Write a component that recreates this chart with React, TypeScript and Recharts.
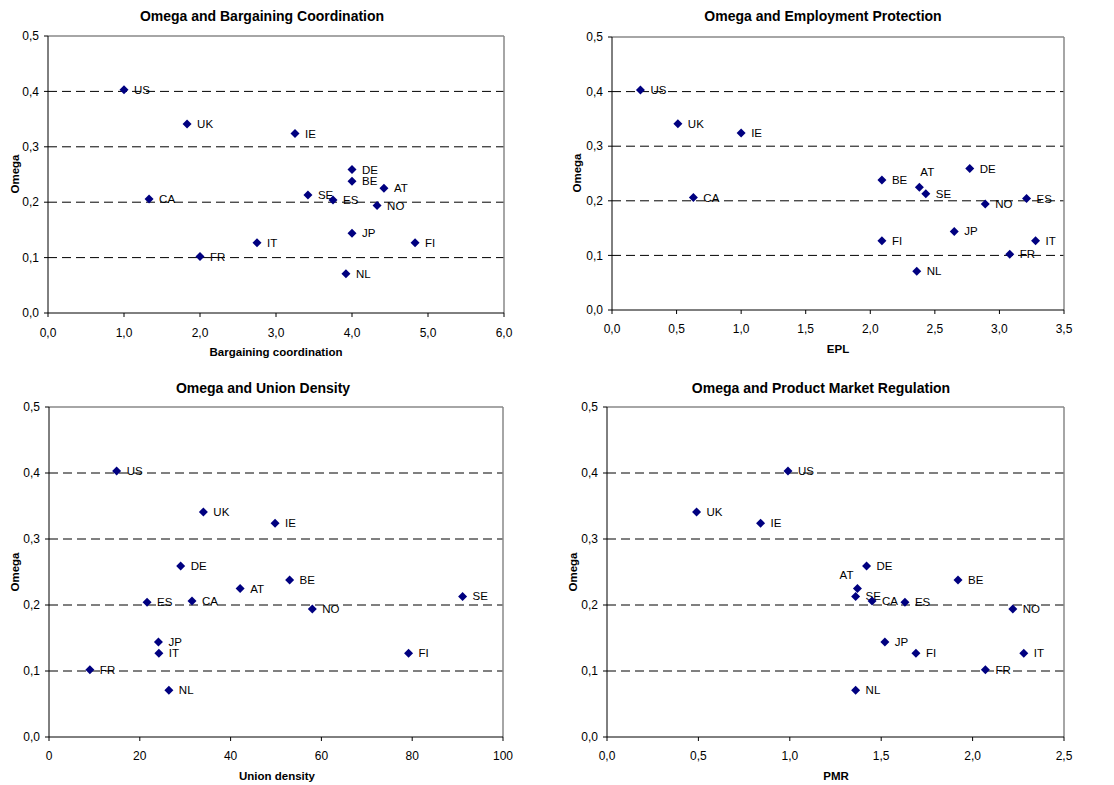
import { ScatterChart, Scatter, XAxis, YAxis, ReferenceLine } from 'recharts'

// Countries and omega (same for every panel)
const countries = ['US', 'UK', 'IE', 'DE', 'BE', 'AT', 'SE', 'CA', 'ES', 'NO', 'JP', 'IT', 'FI', 'FR', 'NL']
const omega = [0.403, 0.341, 0.324, 0.259, 0.238, 0.225, 0.213, 0.206, 0.204, 0.194, 0.144, 0.127, 0.127, 0.102, 0.071]

// x values per panel, in the same country order
const bargaining = [1.0, 1.83, 3.25, 4.0, 4.0, 4.42, 3.42, 1.33, 3.75, 4.33, 4.0, 2.75, 4.83, 2.0, 3.92]
const epl = [0.22, 0.51, 1.0, 2.77, 2.09, 2.38, 2.43, 0.63, 3.21, 2.89, 2.65, 3.28, 2.09, 3.08, 2.36]
const unionDensity = [14.9, 34.0, 49.8, 29.0, 53.0, 42.1, 91.1, 31.5, 21.6, 58.0, 24.1, 24.2, 79.2, 9.0, 26.4]
const pmr = [0.99, 0.49, 0.84, 1.42, 1.92, 1.37, 1.36, 1.45, 1.63, 2.22, 1.52, 2.28, 1.69, 2.07, 1.36]

// tick labels
const omegaTicks = [0, 0.1, 0.2, 0.3, 0.4, 0.5]
const bargainingTicks = [0, 1, 2, 3, 4, 5, 6]
const eplTicks = [0, 0.5, 1, 1.5, 2, 2.5, 3, 3.5]
const unionTicks = [0, 20, 40, 60, 80, 100]
const pmrTicks = [0, 0.5, 1, 1.5, 2, 2.5]

// labels that sit above the marker instead of to the right
const labelAbove: Record<string, string[]> = {
  epl: ['AT'],
  pmr: ['AT'],
}

const FONT = '"Liberation Sans", Arial, sans-serif'
const NAVY = '#000080'

const comma1 = (v: number) => v.toFixed(1).replace('.', ',')
const plain = (v: number) => String(v)

function makeShape(panel: string) {
  return (props: any) => {
    const { cx, cy, payload } = props
    const s = 4.5
    const above = (labelAbove[panel] ?? []).includes(payload.country)
    let tx = cx + 10
    let ty = cy
    let anchor: 'start' | 'end' = 'start'
    if (above && panel === 'epl') {
      tx = cx + 1
      ty = cy - 15
    } else if (above) {
      tx = cx - 4
      ty = cy - 14
      anchor = 'end'
    }
    return (
      <g>
        <polygon
          points={`${cx},${cy - s} ${cx + s},${cy} ${cx},${cy + s} ${cx - s},${cy}`}
          fill={NAVY}
        />
        <text x={tx} y={ty} dy="0.35em" textAnchor={anchor} fontSize={11.5} fontFamily={FONT} fill="#000">
          {payload.country}
        </text>
      </g>
    )
  }
}

interface PanelProps {
  id: string
  xs: number[]
  xTicks: number[]
  xFmt: (v: number) => string
  left: number
  top: number
  height: number
  yAxisWidth: number
  margin: { top: number; right: number; bottom: number; left: number }
  tickMargin: number
}

function Panel({ id, xs, xTicks, xFmt, left, top, height, yAxisWidth, margin, tickMargin }: PanelProps) {
  const data = countries.map((c, i) => ({ country: c, x: xs[i], y: omega[i] }))
  const xMax = xTicks[xTicks.length - 1]
  const tickStyle = { fill: '#000', fontSize: 12, fontFamily: FONT }
  return (
    <div style={{ position: 'absolute', left, top }}>
      <ScatterChart width={557} height={height} margin={margin}>
        <XAxis
          type="number"
          dataKey="x"
          domain={[0, xMax]}
          ticks={xTicks}
          tickFormatter={xFmt}
          tick={tickStyle}
          tickSize={4}
          tickMargin={tickMargin}
          axisLine={{ stroke: '#000' }}
          tickLine={{ stroke: '#000' }}
          height={30}
          interval={0}
        />
        <YAxis
          type="number"
          dataKey="y"
          domain={[0, 0.5]}
          ticks={omegaTicks}
          tickFormatter={comma1}
          tick={tickStyle}
          tickSize={4}
          tickMargin={5}
          axisLine={{ stroke: '#000' }}
          tickLine={{ stroke: '#000' }}
          width={yAxisWidth}
          interval={0}
        />
        {[0.1, 0.2, 0.3, 0.4].map((v) => (
          <ReferenceLine key={v} y={v} stroke="#000" strokeDasharray="9 5" />
        ))}
        <ReferenceLine y={0.5} stroke="#888" strokeWidth={1.5} />
        <ReferenceLine x={xMax} stroke="#888" strokeWidth={1.5} />
        <Scatter data={data} shape={makeShape(id)} isAnimationActive={false} />
      </ScatterChart>
    </div>
  )
}

const titleStyle = (x: number, y: number, size: number, rotate = false): React.CSSProperties => ({
  position: 'absolute',
  left: x,
  top: y,
  transform: `translate(-50%, -50%)${rotate ? ' rotate(-90deg)' : ''}`,
  fontFamily: FONT,
  fontWeight: 'bold',
  fontSize: size,
  whiteSpace: 'nowrap',
  color: '#000',
})

export default function App() {
  return (
    <div style={{ position: 'absolute', left: 0, top: 0, width: 1114, height: 785, background: '#fff' }}>
      <Panel
        id="bargaining"
        xs={bargaining}
        xTicks={bargainingTicks}
        xFmt={comma1}
        left={0}
        top={0}
        height={390}
        yAxisWidth={48}
        margin={{ top: 36, right: 53, bottom: 47, left: 0 }}
        tickMargin={11}
      />
      <Panel
        id="epl"
        xs={epl}
        xTicks={eplTicks}
        xFmt={comma1}
        left={557}
        top={0}
        height={390}
        yAxisWidth={55}
        margin={{ top: 37, right: 50, bottom: 50, left: 0 }}
        tickMargin={10}
      />
      <Panel
        id="union"
        xs={unionDensity}
        xTicks={unionTicks}
        xFmt={plain}
        left={0}
        top={390}
        height={395}
        yAxisWidth={49}
        margin={{ top: 17, right: 54, bottom: 18, left: 0 }}
        tickMargin={10}
      />
      <Panel
        id="pmr"
        xs={pmr}
        xTicks={pmrTicks}
        xFmt={comma1}
        left={557}
        top={390}
        height={395}
        yAxisWidth={50}
        margin={{ top: 17, right: 50, bottom: 18, left: 0 }}
        tickMargin={10}
      />

      <div style={titleStyle(262, 16, 14)}>Omega and Bargaining Coordination</div>
      <div style={titleStyle(823, 16, 14)}>Omega and Employment Protection</div>
      <div style={titleStyle(263, 388, 14)}>Omega and Union Density</div>
      <div style={titleStyle(821, 388, 14)}>Omega and Product Market Regulation</div>

      <div style={titleStyle(276, 352, 11.5)}>Bargaining coordination</div>
      <div style={titleStyle(838, 349, 11.5)}>EPL</div>
      <div style={titleStyle(277, 776, 11.5)}>Union density</div>
      <div style={titleStyle(836, 776, 11.5)}>PMR</div>

      <div style={titleStyle(15, 174, 11.5, true)}>Omega</div>
      <div style={titleStyle(577, 173, 11.5, true)}>Omega</div>
      <div style={titleStyle(15, 572, 11.5, true)}>Omega</div>
      <div style={titleStyle(573, 572, 11.5, true)}>Omega</div>
    </div>
  )
}
